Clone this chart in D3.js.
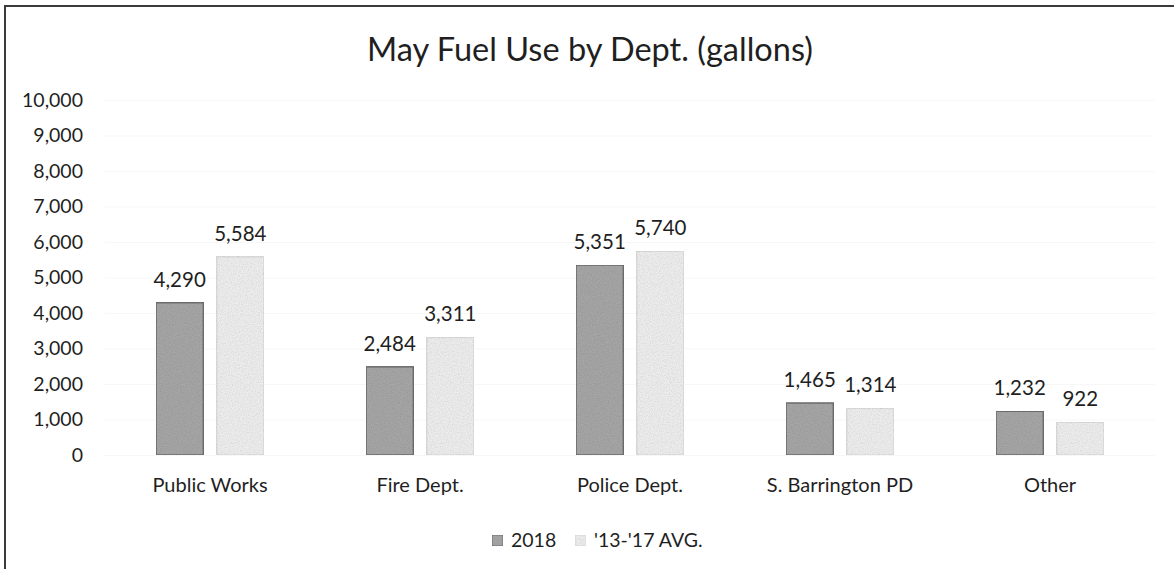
<!DOCTYPE html>
<html>
<head>
<meta charset="utf-8">
<script src="https://cdn.jsdelivr.net/npm/d3@7"></script>
<style>
  body { margin: 0; background: #fff; }
  svg { font-family: Lato, "Noto Sans", sans-serif; }
</style>
</head>
<body>
<div id="chart"></div>
<script>
// chart data
var departments = ["Public Works", "Fire Dept.", "Police Dept.", "S. Barrington PD", "Other"];
var seriesNames = ["2018", "'13-'17 AVG."];
var values2018 = [4290, 2484, 5351, 1465, 1232];
var valuesAvg = [5584, 3311, 5740, 1314, 922];
var yTicks = [0, 1000, 2000, 3000, 4000, 5000, 6000, 7000, 8000, 9000, 10000];

var width = 1174, height = 569;
var fills = ["#a6a6a6", "#ededed"];
var strokes = ["#6e6e6e", "#dcdcdc"];
var ink = "#1f1f1f";

var svg = d3.select("#chart").append("svg")
    .attr("width", width)
    .attr("height", height);

// speckle texture like the scanned print
var defs = svg.append("defs");
var f = defs.append("filter").attr("id", "grain")
    .attr("x", 0).attr("y", 0).attr("width", 1).attr("height", 1);
f.append("feTurbulence").attr("type", "fractalNoise")
    .attr("baseFrequency", 0.9).attr("numOctaves", 2).attr("seed", 3).attr("result", "noise");
f.append("feColorMatrix").attr("in", "noise").attr("type", "matrix")
    .attr("values", "0 0 0 0 0  0 0 0 0 0  0 0 0 0 0  0 0 0 0.35 -0.12")
    .attr("result", "dots");
f.append("feComposite").attr("in", "dots").attr("in2", "SourceGraphic").attr("operator", "in").attr("result", "d2");
f.append("feMerge").selectAll("feMergeNode")
    .data(["SourceGraphic", "d2"]).enter().append("feMergeNode").attr("in", function(d) { return d; });

// frame (left and top edges of the scanned chart box)
svg.append("path")
    .attr("d", "M5," + height + "V6H" + width)
    .attr("fill", "none")
    .attr("stroke", "#3a3a3a")
    .attr("stroke-width", 2);

// scales
var x = d3.scaleBand().domain(departments).range([105, 1155])
    .paddingInner(0.486).paddingOuter(0.243);
var x1 = d3.scaleBand().domain(seriesNames).range([0, x.bandwidth()]).paddingInner(0.22);
var y = d3.scaleLinear().domain([0, 10000]).range([455, 100]);

// gridlines (barely visible in the print)
svg.append("g")
    .attr("transform", "translate(105,0)")
    .call(d3.axisLeft(y).tickValues(yTicks).tickSize(-1050).tickFormat(""))
    .call(function(g) { g.select(".domain").remove(); })
    .selectAll("line").attr("stroke", "#f7f7f7");

// y axis labels
var fmt = d3.format(",");
svg.append("g")
    .attr("transform", "translate(93,0)")
    .call(d3.axisLeft(y).tickValues(yTicks).tickSize(0).tickPadding(10).tickFormat(fmt))
    .call(function(g) { g.select(".domain").remove(); })
    .selectAll("text")
    .attr("font-family", "Lato, 'Noto Sans', sans-serif")
    .attr("font-size", 19.5)
    .attr("fill", ink);

// bars
var rows = departments.map(function(d, i) {
  return { dept: d, vals: [
    { name: seriesNames[0], value: values2018[i], k: 0 },
    { name: seriesNames[1], value: valuesAvg[i], k: 1 }
  ]};
});

var groups = svg.selectAll(".grp")
    .data(rows)
  .enter().append("g")
    .attr("class", "grp")
    .attr("transform", function(d) { return "translate(" + x(d.dept) + ",0)"; });

groups.selectAll("rect")
    .data(function(d) { return d.vals; })
  .enter().append("rect")
    .attr("x", function(d) { return x1(d.name); })
    .attr("y", function(d) { return y(d.value); })
    .attr("width", x1.bandwidth())
    .attr("height", function(d) { return y(0) - y(d.value); })
    .attr("fill", function(d) { return fills[d.k]; })
    .attr("stroke", function(d) { return strokes[d.k]; })
    .attr("stroke-width", 1.5)
    .attr("filter", "url(#grain)");

// data labels
groups.selectAll(".lbl")
    .data(function(d) { return d.vals; })
  .enter().append("text")
    .attr("class", "lbl")
    .attr("x", function(d) { return x1(d.name) + x1.bandwidth() / 2; })
    .attr("y", function(d) { return y(d.value) - 16; })
    .attr("text-anchor", "middle")
    .attr("font-size", 20.5)
    .attr("fill", ink)
    .text(function(d) { return fmt(d.value); });

// x axis labels
svg.append("g")
    .attr("transform", "translate(0,474)")
    .call(d3.axisBottom(x).tickSize(0).tickPadding(0))
    .call(function(g) { g.select(".domain").remove(); })
    .selectAll("text")
    .attr("font-family", "Lato, 'Noto Sans', sans-serif")
    .attr("font-size", 20)
    .attr("fill", ink)
    .attr("dy", "0.9em");

// title
svg.append("text")
    .attr("x", 590)
    .attr("y", 61)
    .attr("text-anchor", "middle")
    .attr("font-size", 32.5)
    .attr("fill", ink)
    .text("May Fuel Use by Dept. (gallons)");

// legend
var legendX = [492, 575];
var legend = svg.selectAll(".leg")
    .data(seriesNames)
  .enter().append("g")
    .attr("class", "leg")
    .attr("transform", function(d, i) { return "translate(" + legendX[i] + ",535)"; });

legend.append("rect")
    .attr("width", 11).attr("height", 11)
    .attr("fill", function(d, i) { return fills[i]; })
    .attr("stroke", function(d, i) { return strokes[i]; })
    .attr("filter", "url(#grain)");

legend.append("text")
    .attr("x", 19)
    .attr("y", 12)
    .attr("font-size", 19.5)
    .attr("fill", ink)
    .text(function(d) { return d; });
</script>
</body>
</html>
